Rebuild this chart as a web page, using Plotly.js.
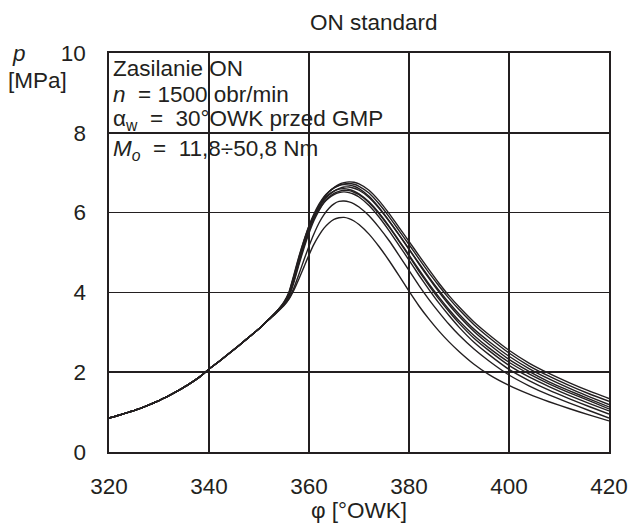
<!DOCTYPE html>
<html>
<head>
<meta charset="utf-8">
<script src="https://cdn.plot.ly/plotly-3.0.1.min.js"></script>
<style>
html,body{margin:0;padding:0;background:#fff;}
#chart{width:628px;height:523px;}
</style>
</head>
<body>
<div id="chart"></div>
<script>
// crank angle [deg OWK]
var phi = [320,322,324,326,328,330,332,334,336,338,340,342,344,346,348,350,
  351,352,353,354,355,356,357,358,359,360,361,362,363,364,365,366,367,368,369,370,
  372,374,376,378,380,382,384,386,388,390,393,396,400,404,408,412,416,420];

// common compression part 320..350
var comp = [0.85,0.92,1.00,1.08,1.18,1.29,1.41,1.55,1.70,1.87,2.08,2.27,2.47,2.67,2.88,3.09];

// pressure p [MPa] for each load (part 351..420)
var pA = [3.21,3.33,3.45,3.58,3.72,3.92,4.30,4.75,5.17,5.55,5.88,6.15,6.36,6.52,6.63,6.71,6.75,6.77,6.76,6.72,
  6.56,6.30,5.98,5.63,5.28,4.92,4.57,4.23,3.92,3.64,3.26,2.94,2.55,2.23,1.97,1.74,1.53,1.34];
var pB = [3.21,3.33,3.45,3.58,3.73,3.95,4.36,4.81,5.23,5.61,5.93,6.18,6.38,6.52,6.62,6.68,6.72,6.73,6.71,6.66,
  6.49,6.22,5.90,5.55,5.20,4.84,4.49,4.16,3.85,3.57,3.19,2.87,2.48,2.16,1.90,1.67,1.46,1.27];
var pC = [3.21,3.33,3.45,3.59,3.75,3.99,4.42,4.88,5.30,5.67,5.97,6.21,6.40,6.53,6.62,6.68,6.70,6.69,6.66,6.60,
  6.41,6.13,5.80,5.45,5.09,4.73,4.38,4.05,3.74,3.46,3.08,2.77,2.40,2.09,1.83,1.60,1.39,1.19];
var pD = [3.21,3.33,3.45,3.58,3.72,3.93,4.32,4.77,5.19,5.56,5.87,6.11,6.30,6.44,6.54,6.60,6.64,6.64,6.61,6.56,
  6.38,6.11,5.79,5.44,5.08,4.71,4.35,4.01,3.69,3.40,3.02,2.70,2.32,2.02,1.76,1.54,1.33,1.13];
var pE = [3.21,3.33,3.45,3.59,3.76,4.01,4.45,4.91,5.31,5.66,5.94,6.16,6.33,6.46,6.54,6.59,6.60,6.58,6.54,6.47,
  6.27,5.99,5.66,5.30,4.94,4.57,4.21,3.88,3.57,3.29,2.92,2.61,2.25,1.96,1.71,1.49,1.29,1.08];
var pF = [3.21,3.32,3.44,3.57,3.71,3.90,4.26,4.70,5.11,5.48,5.80,6.05,6.25,6.39,6.48,6.53,6.56,6.55,6.51,6.45,
  6.25,5.97,5.64,5.28,4.91,4.53,4.17,3.83,3.52,3.23,2.85,2.54,2.17,1.88,1.64,1.42,1.22,1.03];
var pG = [3.21,3.33,3.45,3.59,3.74,3.97,4.39,4.84,5.24,5.58,5.86,6.08,6.25,6.37,6.45,6.50,6.52,6.50,6.46,6.39,
  6.18,5.89,5.55,5.18,4.81,4.43,4.07,3.73,3.42,3.13,2.75,2.44,2.07,1.79,1.55,1.34,1.14,0.95];
var pH = [3.21,3.32,3.43,3.55,3.68,3.85,4.12,4.46,4.82,5.16,5.47,5.74,5.95,6.11,6.22,6.28,6.29,6.27,6.22,6.14,
  5.92,5.63,5.30,4.93,4.55,4.17,3.82,3.50,3.20,2.93,2.58,2.28,1.93,1.66,1.43,1.23,1.04,0.85];
var pI = [3.21,3.32,3.43,3.55,3.67,3.83,4.06,4.34,4.64,4.94,5.21,5.43,5.61,5.74,5.83,5.87,5.88,5.85,5.79,5.70,
  5.46,5.15,4.80,4.42,4.03,3.66,3.33,3.03,2.76,2.52,2.20,1.94,1.67,1.45,1.26,1.09,0.93,0.78];

var series = [pA,pB,pC,pD,pE,pF,pG,pH,pI];

var xTicks = [320,340,360,380,400,420];
var yTicks = [0,2,4,6,8,10];

var ink = '#231f20';
var traces = series.map(function(s){
  return {
    x: phi, y: comp.concat(s), type:'scatter', mode:'lines',
    line:{color:ink, width:1.4, shape:'spline', smoothing:0.5},
    showlegend:false, hoverinfo:'skip'
  };
});

var F = 'Liberation Sans, Arial, Helvetica, sans-serif';
var fs = 22.5;

function note(txt, x, y, anchor){
  return {text:txt, xref:'paper', yref:'paper', x:x, y:y, xanchor:'left', yanchor:anchor || 'middle',
    showarrow:false, font:{family:F, size:fs, color:ink}, align:'left', borderpad:0};
}

var layout = {
  width:628, height:523,
  margin:{l:109, r:19, t:53, b:71},
  paper_bgcolor:'#fff', plot_bgcolor:'#fff',
  font:{family:F, size:fs, color:ink},
  title:{text:'ON standard', font:{family:F, size:22.5, color:ink}, x:0.595, xanchor:'center', y:0.957, yanchor:'middle'},
  xaxis:{range:[320,420], tickvals:xTicks, ticktext:xTicks.map(String), showgrid:true, gridcolor:ink, gridwidth:1.6,
    zeroline:false, showline:true, linecolor:ink, linewidth:1.6, mirror:true, ticks:'', ticklabelstandoff:13,
    tickfont:{family:F, size:fs, color:ink},
    title:{text:'φ [°OWK]', font:{family:F, size:fs, color:ink}, standoff:4}},
  yaxis:{range:[0,10], tickvals:yTicks, ticktext:yTicks.map(String), showgrid:true, gridcolor:ink, gridwidth:1.6,
    zeroline:false, showline:true, linecolor:ink, linewidth:1.6, mirror:true, ticks:'', ticklabelstandoff:17,
    tickfont:{family:F, size:fs, color:ink}},
  annotations:[
    note('<i>p</i>', -0.196, 0.965, 'bottom'),
    note('[MPa]', -0.204, 0.965, 'top'),
    note('Zasilanie ON', 0.006, 0.96),
    note('<i>n</i>\u00a0 = 1500 obr/min', 0.006, 0.895),
    note('α<sub>w</sub>\u00a0 = \u00a030°OWK przed GMP', 0.006, 0.832),
    note('<i>M<sub>o</sub></i>\u00a0 = \u00a011,8÷50,8 Nm', 0.006, 0.758)
  ]
};

Plotly.newPlot('chart', traces, layout, {staticPlot:true, displayModeBar:false});
</script>
</body>
</html>
